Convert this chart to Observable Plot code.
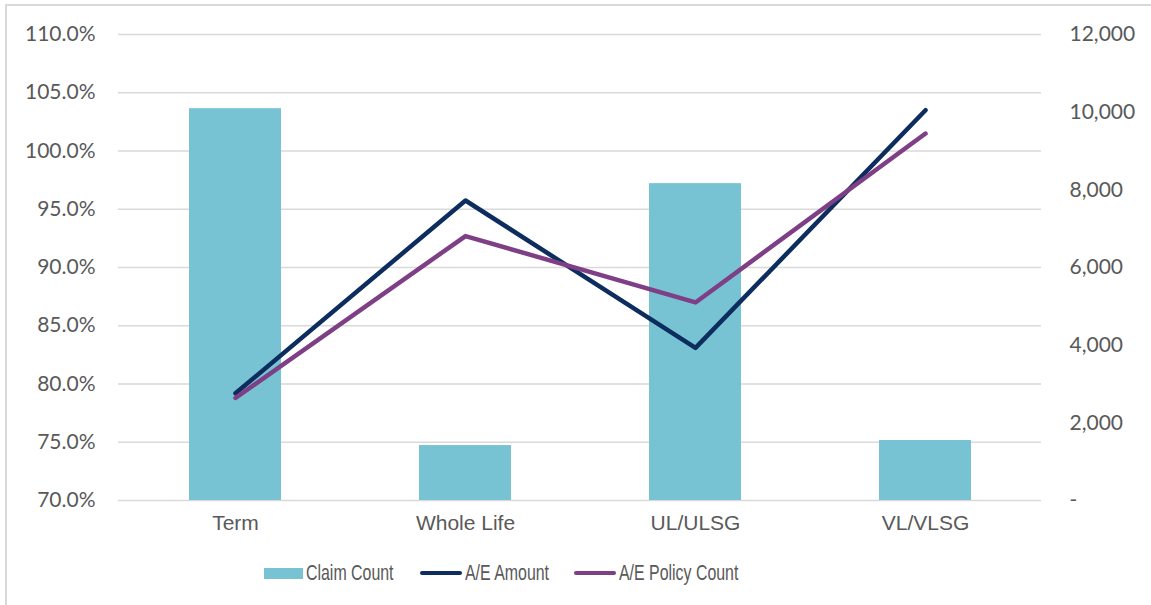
<!DOCTYPE html>
<html><head><meta charset="utf-8">
<script src="https://cdn.jsdelivr.net/npm/d3@7"></script>
<script src="https://cdn.jsdelivr.net/npm/@observablehq/plot@0.6"></script>
<style>
body{margin:0;background:#fff;font-family:"Liberation Sans",Arial,sans-serif;}
#frame{position:absolute;left:5px;top:4px;width:1160px;height:620px;border:2px solid #d9d9d9;box-sizing:border-box;}
#chart{position:absolute;left:0;top:0;}
#chart g[aria-label="x-axis tick label"], #chart g[aria-label="x-axis tick label"] text{font-family:"Liberation Sans",Arial,sans-serif;}
#legend{position:absolute;top:560px;left:0;width:1151px;height:26px;font-family:"Liberation Sans",Arial,sans-serif;font-size:21.5px;color:#595959;}
.li{position:absolute;top:0;display:flex;align-items:center;height:26px;white-space:nowrap;}
.sw{display:inline-block;margin-right:3px;flex:none;}
.lt{display:inline-block;transform:scaleX(0.74);transform-origin:0 50%;}
</style></head>
<body>
<div id="frame"></div>
<div id="chart"></div>
<div id="legend"></div>
<script>
const categories = ["Term", "Whole Life", "UL/ULSG", "VL/VLSG"];
const claimCount = [10090, 1415, 8160, 1545];
const aeAmount = [79.2, 95.75, 83.1, 103.5];
const aePolicyCount = [78.8, 92.7, 87.0, 101.5];
const leftTicks = [70, 75, 80, 85, 90, 95, 100, 105, 110];
const rightTicks = [0, 2000, 4000, 6000, 8000, 10000, 12000];

const colors = {bar: "#78C3D3", amount: "#0C2D5E", policy: "#7F3F86"};
const toPct = v => 70 + v / 12000 * 40;
const fromPct = p => (p - 70) / 40 * 12000;

const bars = categories.map((c, i) => ({cat: c, count: claimCount[i]}));
const lines = [
  ...categories.map((c, i) => ({cat: c, v: aeAmount[i], s: "A/E Amount"})),
  ...categories.map((c, i) => ({cat: c, v: aePolicyCount[i], s: "A/E Policy Count"}))
];

const plot = Plot.plot({
  width: 1151,
  height: 545,
  marginTop: 34,
  marginBottom: 45,
  marginLeft: 118,
  marginRight: 110,
  x: {domain: categories, paddingInner: 0.6, paddingOuter: 0.3, label: null},
  y: {domain: [70, 110], label: null},
  style: {fontFamily: "Lato, sans-serif", color: "#595959", background: "transparent"},
  marks: [
    Plot.gridY(leftTicks, {stroke: "#d9d9d9", strokeOpacity: 1, strokeWidth: 1.5}),
    Plot.barY(bars, {x: "cat", y1: 70, y2: d => toPct(d.count), fill: colors.bar}),
    Plot.line(lines, {x: "cat", y: "v", z: "s", stroke: d => d.s === "A/E Amount" ? colors.amount : colors.policy, strokeWidth: 4.5, strokeLinecap: "round", strokeLinejoin: "round"}),
    Plot.axisY(leftTicks, {anchor: "left", tickSize: 0, tickPadding: 23, tickFormat: d => d.toFixed(1) + "%", fontSize: 21, fill: "#595959"}),
    Plot.axisY(rightTicks.map(toPct), {anchor: "right", tickSize: 0, tickPadding: 28, textAnchor: "start", tickFormat: p => { const v = Math.round(fromPct(p)); return v === 0 ? "-" : d3.format(",")(v); }, fontSize: 21, fill: "#595959"}),
    Plot.axisX({tickSize: 0, tickPadding: 15, fontSize: 21, fill: "#595959"})
  ]
});
document.getElementById("chart").appendChild(plot);

const leg = document.getElementById("legend");
const items = [
  {label: "Claim Count", type: "rect", color: colors.bar, x: 264},
  {label: "A/E Amount", type: "line", color: colors.amount, x: 420},
  {label: "A/E Policy Count", type: "line", color: colors.policy, x: 574}
];
for (const it of items) {
  const d = document.createElement("div");
  d.className = "li";
  d.style.left = it.x + "px";
  const sw = document.createElement("span");
  sw.className = "sw";
  sw.style.width = (it.type === "rect" ? 39 : 42) + "px";
  sw.style.height = (it.type === "rect" ? 11 : 4) + "px";
  sw.style.background = it.color;
  if (it.type === "line") sw.style.borderRadius = "2px";
  d.appendChild(sw);
  const t = document.createElement("span");
  t.className = "lt";
  t.textContent = it.label;
  d.appendChild(t);
  leg.appendChild(d);
}
</script>
</body></html>
